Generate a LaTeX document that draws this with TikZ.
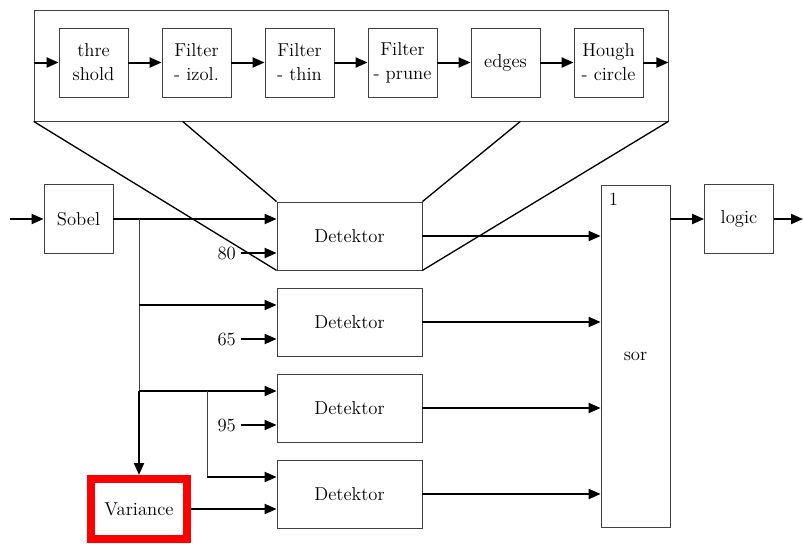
\documentclass[tikz,border=0pt]{standalone}
\usetikzlibrary{arrows.meta}
\begin{document}
\begin{tikzpicture}
[x=0.75pt, y=-0.75pt, node distance=77.25pt, font=\fontsize{14}{18}\selectfont,
 >={Triangle[length=9pt,width=7.5pt]}]
\tikzstyle{block}=[rectangle, draw=black!75, line width=0.6pt, minimum width=51.75pt, minimum height=51.75pt, inner sep=1pt, align=center]
\tikzstyle{det}=[block, minimum width=108.75pt, minimum height=51pt]
\tikzstyle{sig}=[->, line width=1.5pt]
\tikzstyle{bus}=[draw=black!75, line width=0.6pt]
\useasboundingbox (0,0) rectangle (803,543);

% processing chain inside the detector
\node[block, minimum width=475.5pt, minimum height=83.25pt]	(chain)	at (351,65.5)	{};
\node[block]	(thre)	at (93.5,62.5)	{thre\\shold};
\node[block]	(izol)	[right of=thre]	{Filter\\- izol.};
\node[block]	(thin)	[right of=izol]	{Filter\\- thin};
\node[block]	(prune)	[right of=thin]	{Filter\\- prune};
\node[block]	(edges)	[right of=prune]	{edges};
\node[block]	(hough)	[right of=edges]	{Hough\\- circle};

\draw[sig]	(thre.west -| chain.west) -- (thre);
\draw[sig]	(thre) -- (izol);
\draw[sig]	(izol) -- (thin);
\draw[sig]	(thin) -- (prune);
\draw[sig]	(prune) -- (edges);
\draw[sig]	(edges) -- (hough);
\draw[sig]	(hough) -- (hough.east -| chain.east);

% main flow
\node[block]	(sobel)	at (78.5,219)	{Sobel};
\node[det]	(det1)	at (349.5,236)	{Detektor};
\node[det]	(det2)	[node distance=64.5pt, below of=det1]	{Detektor};
\node[det]	(det3)	[node distance=64.5pt, below of=det2]	{Detektor};
\node[det]	(det4)	[node distance=64.5pt, below of=det3]	{Detektor};
\node[block, minimum height=256.5pt, label={[anchor=north west, inner sep=6pt]north west:1}]	(sor)	at (635.5,356)	{sor};
\node[block]	(logic)	at (739,219)	{logic};
\node[block, draw=red, line width=6pt, minimum width=72pt, minimum height=45pt]	(var)	at (139,509)	{Variance};

\coordinate (in)	at (10,219);
\coordinate (out)	at (803,219);
\coordinate (br)	at (139,219);
\coordinate (br2)	at (207,219);

\coordinate (d1a) at ([yshift=12.75pt]det1.west);
\coordinate (d1b) at ([yshift=-12.75pt]det1.west);
\coordinate (d2a) at ([yshift=12.75pt]det2.west);
\coordinate (d2b) at ([yshift=-12.75pt]det2.west);
\coordinate (d3a) at ([yshift=12.75pt]det3.west);
\coordinate (d3b) at ([yshift=-12.75pt]det3.west);
\coordinate (d4a) at ([yshift=12.75pt]det4.west);
\coordinate (d4b) at ([yshift=-12.75pt]det4.west);

\node[anchor=east]	(t80)	at ([xshift=-27pt]d1b)	{80};
\node[anchor=east]	(t65)	at ([xshift=-27pt]d2b)	{65};
\node[anchor=east]	(t95)	at ([xshift=-27pt]d3b)	{95};

\draw[sig]	(in) -- (sobel);
\draw[sig]	(sobel) -- (d1a);
\draw[bus]	(br) -- (br |- d3a);
\draw[sig]	(br |- d3a) -- (var.north);
\draw[sig]	(br |- d2a) -- (d2a);
\draw[sig]	(br |- d3a) -- (d3a);
\draw[bus]	(br2 |- d3a) -- (br2 |- d4a);
\draw[sig]	(br2 |- d4a) -- (d4a);
\draw[sig]	(var.east) -- (var.east -| det4.west);
\draw[sig]	(t80) -- (d1b);
\draw[sig]	(t65) -- (d2b);
\draw[sig]	(t95) -- (d3b);

\foreach \d in {det1,det2,det3,det4}
  \draw[sig]	(\d.east) -- (\d.east -| sor.west);
\draw[sig]	(sor.east |- logic.west) -- (logic);
\draw[sig]	(logic) -- (out);

% zoom lines from the chain to the first detector
\draw[line width=1pt]	(chain.south west) -- (det1.south west);
\draw[line width=1pt]	([xshift=111.75pt]chain.south west) -- (det1.north west);
\draw[line width=1pt]	([xshift=-111pt]chain.south east) -- (det1.north east);
\draw[line width=1pt]	(chain.south east) -- (det1.south east);
\end{tikzpicture}
\end{document}
